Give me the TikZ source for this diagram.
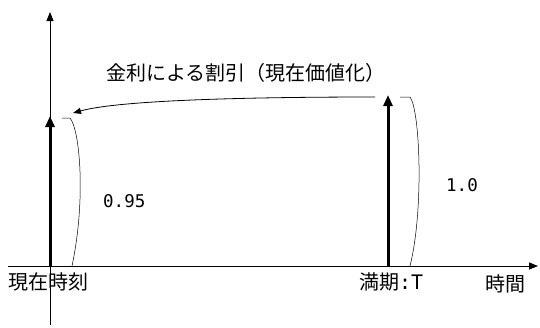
\documentclass[tikz,border=0pt]{standalone}
\usepackage{fontspec}
\setmainfont{Noto Sans CJK JP}
\newfontfamily\latinmono{DejaVu Sans Mono}
\usetikzlibrary{arrows.meta}
\begin{document}
\begin{tikzpicture}[x=1pt,y=-1pt,
  axis/.style={line width=0.9pt,-{Triangle[length=9pt,width=7pt]}},
  flow/.style={line width=3pt,-{Triangle[length=11pt,width=9pt]}},
  brace/.style={line width=0.5pt},
  lbl/.style={font=\fontsize{20}{22}\selectfont,inner sep=0pt},
  num/.style={font=\latinmono\fontsize{17.5}{22}\selectfont,inner sep=0pt}]
\useasboundingbox (0,0) rectangle (540,327);
\coordinate (yb) at (50,325);
\coordinate (yt) at (50,12);
\coordinate (xl) at (8,266);
\coordinate (xr) at (538,266);
\draw[axis] (yb) -- (yt);
\draw[axis] (xl) -- (xr);
\coordinate (p0) at (50,266);
\coordinate (p0t) at (50,116);
\coordinate (pT) at (388,266);
\coordinate (pTt) at (388,95);
\draw[flow] (p0) -- (p0t);
\draw[flow] (pT) -- (pTt);
% braces
\coordinate (lb1) at (62,118);
\coordinate (lb2) at (72,266);
\draw[brace] (lb1) -- (70,118) .. controls (80,130) and (86,200) .. (lb2);
\coordinate (rb1) at (400,97);
\coordinate (rb2) at (410,266);
\draw[brace] (rb1) -- (410,97) .. controls (420,110) and (424,210) .. (rb2);
% discount arrow
\coordinate (ds) at (375,97);
\coordinate (de) at (73,113);
\draw[line width=0.8pt,-{Triangle[length=8pt,width=6pt]}] (ds) .. controls (250,97) and (120,100) .. (de);
\node[lbl] (t1) at (246,73) {金利による割引（現在価値化）};
\node[num,anchor=west] (t2) at (103,201) {0.95};
\node[num,anchor=west] (t3) at (446,185) {1.0};
\node[lbl,anchor=west] (t4) at (8,282) {現在時刻};
\node[lbl,anchor=west] (t5) at (359,282) {満期\latinmono :T};
\node[lbl,anchor=west] (t6) at (485,284) {時間};
\end{tikzpicture}
\end{document}
